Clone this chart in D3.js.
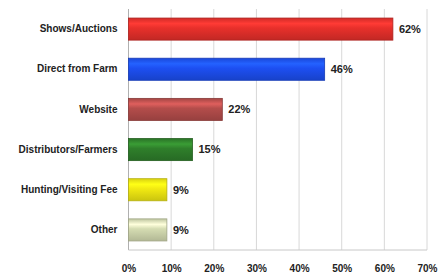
<!DOCTYPE html>
<html>
<head>
<meta charset="utf-8">
<script src="https://cdn.jsdelivr.net/npm/d3@7"></script>
<style>
  body { margin: 0; background: #fff; }
  text { font-family: "Liberation Sans Narrow", "Liberation Sans", Arial, sans-serif; font-weight: bold; }
</style>
</head>
<body>
<div id="chart"></div>
<script>
// chart data
var categories = ["Shows/Auctions", "Direct from Farm", "Website", "Distributors/Farmers", "Hunting/Visiting Fee", "Other"];
var values = [62, 46, 22, 15, 9, 9];
var barColors = ["#e8302b", "#1d4ff2", "#b44d4b", "#2f7f2b", "#f2ea12", "#d5dcb2"];
var tickValues = [0, 10, 20, 30, 40, 50, 60, 70];

var margin = {top: 9, right: 19, bottom: 25, left: 128.5},
    width = 446 - margin.left - margin.right,
    height = 275 - margin.top - margin.bottom;

var svg = d3.select("#chart")
  .append("svg")
  .attr("width", 446)
  .attr("height", 275)
  .append("g")
  .attr("transform", "translate(" + margin.left + "," + margin.top + ")");

var x = d3.scaleLinear()
  .domain([0, 70])
  .range([0, width]);

var y = d3.scaleBand()
  .domain(categories)
  .range([0, height])
  .paddingInner(0.45)
  .paddingOuter(0.225);

// gradients for the glossy bars
var defs = svg.append("defs");
barColors.forEach(function(c, i) {
  var g = defs.append("linearGradient")
    .attr("id", "grad" + i)
    .attr("x1", 0).attr("y1", 0).attr("x2", 0).attr("y2", 1);
  g.append("stop").attr("offset", "0%").attr("stop-color", d3.color(c).darker(0.3));
  g.append("stop").attr("offset", "25%").attr("stop-color", d3.color(c).brighter(0.6));
  g.append("stop").attr("offset", "45%").attr("stop-color", c);
  g.append("stop").attr("offset", "100%").attr("stop-color", d3.color(c).darker(0.5));
});

// gridlines
svg.append("g")
  .selectAll("line")
  .data(tickValues.slice(1))
  .enter()
  .append("line")
  .attr("x1", function(d) { return x(d); })
  .attr("x2", function(d) { return x(d); })
  .attr("y1", 0)
  .attr("y2", height)
  .attr("stroke", "#d8d8d8")
  .attr("stroke-width", 1);

// axis lines
svg.append("line")
  .attr("x1", 0).attr("x2", 0)
  .attr("y1", 0).attr("y2", height)
  .attr("stroke", "#b0b0b0");
svg.append("line")
  .attr("x1", 0).attr("x2", width)
  .attr("y1", height).attr("y2", height)
  .attr("stroke", "#c8c8c8");

// x axis labels
var xAxis = d3.axisBottom(x)
  .tickValues(tickValues)
  .tickSize(0)
  .tickPadding(15)
  .tickFormat(function(d) { return d + "%"; });
svg.append("g")
  .attr("transform", "translate(0," + height + ")")
  .call(xAxis)
  .call(function(g) { g.select(".domain").remove(); })
  .selectAll("text")
  .attr("font-size", 10)
  .attr("fill", "#222");

// y axis labels
var yAxis = d3.axisLeft(y)
  .tickSize(0)
  .tickPadding(11);
svg.append("g")
  .call(yAxis)
  .call(function(g) { g.select(".domain").remove(); })
  .selectAll("text")
  .attr("font-size", 10)
  .attr("fill", "#222");

// bars
svg.append("g")
  .selectAll("rect")
  .data(values)
  .enter()
  .append("rect")
  .attr("x", 0)
  .attr("y", function(d, i) { return y(categories[i]); })
  .attr("width", function(d) { return x(d); })
  .attr("height", y.bandwidth())
  .attr("fill", function(d, i) { return "url(#grad" + i + ")"; })
  .attr("stroke", function(d, i) { return d3.color(barColors[i]).darker(0.8); })
  .attr("stroke-width", 0.8);

// value labels
svg.append("g")
  .selectAll("text")
  .data(values)
  .enter()
  .append("text")
  .attr("x", function(d) { return x(d) + 6; })
  .attr("y", function(d, i) { return y(categories[i]) + y.bandwidth() / 2; })
  .attr("dy", "0.35em")
  .attr("font-size", 11)
  .attr("fill", "#222")
  .text(function(d) { return d + "%"; });
</script>
</body>
</html>
